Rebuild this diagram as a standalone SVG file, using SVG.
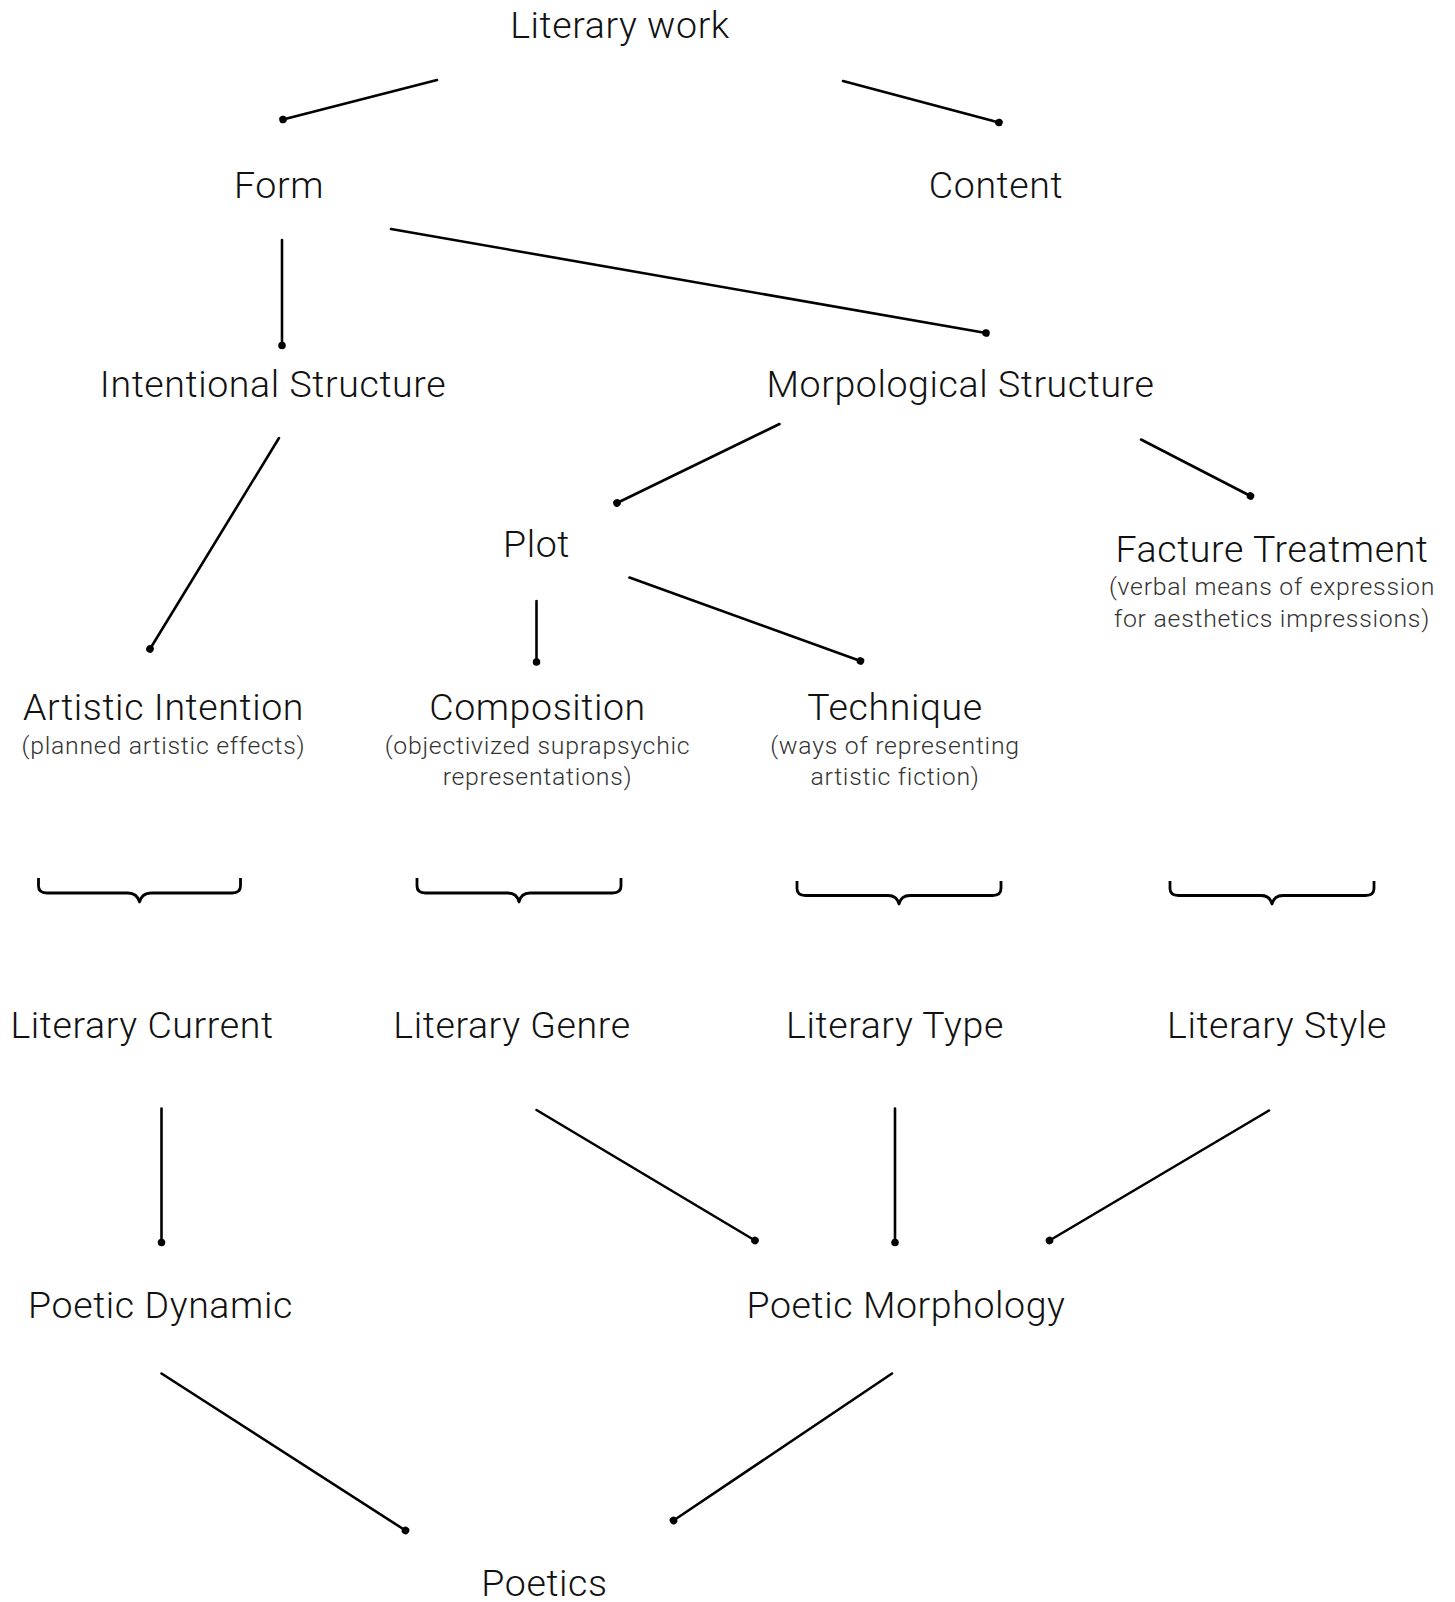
<svg xmlns="http://www.w3.org/2000/svg" width="1455" height="1602" viewBox="0 0 1455 1602">
<defs>
<style>
.t{font-family:Roboto,"Helvetica Neue","Liberation Sans",sans-serif;font-weight:300;font-size:37.5px;letter-spacing:0.6px;fill:#111;text-anchor:middle}
.s{font-family:Roboto,"Helvetica Neue","Liberation Sans",sans-serif;font-weight:300;font-size:24.8px;letter-spacing:0.75px;fill:#333;text-anchor:middle}
.c line{stroke:#000;stroke-width:2.6;stroke-linecap:round;marker-end:url(#dot)}
.b path{fill:none;stroke:#000;stroke-width:2.8;stroke-linejoin:round}
</style>
<marker id="dot" viewBox="-5 -5 10 10" refX="0" refY="0" markerWidth="9" markerHeight="9" markerUnits="userSpaceOnUse" orient="auto"><circle r="4.2" fill="#000"/></marker>
</defs>
<rect width="1455" height="1602" fill="#fff"/>
<g id="connectors" class="c">
<line x1="437" y1="80" x2="283" y2="119.5"/>
<line x1="843" y1="81" x2="999" y2="122.5"/>
<line x1="282" y1="240" x2="282" y2="345.5"/>
<line x1="391" y1="229" x2="986" y2="333"/>
<line x1="279" y1="438" x2="150" y2="649"/>
<line x1="779.5" y1="424" x2="617" y2="503"/>
<line x1="1141" y1="439.5" x2="1250.5" y2="496"/>
<line x1="536.5" y1="601" x2="536.5" y2="662"/>
<line x1="629.5" y1="577.5" x2="860.5" y2="661"/>
<line x1="161.5" y1="1108.5" x2="161.5" y2="1242.5"/>
<line x1="536.5" y1="1110" x2="755" y2="1240.5"/>
<line x1="895" y1="1108.5" x2="895" y2="1242.5"/>
<line x1="1269" y1="1110.5" x2="1049.5" y2="1240.5"/>
<line x1="161.5" y1="1373.5" x2="405.5" y2="1530.5"/>
<line x1="892" y1="1373.5" x2="673.5" y2="1520.5"/>
</g>
<g id="braces" class="b">
<path d="M38.5 878 V886 Q38.5 893 47 893 H128 Q137 893 139.5 902 Q142 893 151 893 H232 Q240.5 893 240.5 886 V878"/>
<path d="M417 878 V886 Q417 893 425.5 893 H508 Q517 893 519 902 Q521 893 530 893 H612.5 Q621 893 621 886 V878"/>
<path d="M797 881 V888.5 Q797 895.5 805.5 895.5 H888 Q897 895.5 899 904 Q901 895.5 910 895.5 H992.5 Q1001 895.5 1001 888.5 V881"/>
<path d="M1170 881 V888.5 Q1170 895.5 1178.5 895.5 H1261 Q1270 895.5 1272 904 Q1274 895.5 1283 895.5 H1365.5 Q1374 895.5 1374 888.5 V881"/>
</g>
<g id="n-literary-work"><text class="t" x="620" y="38">Literary work</text></g>
<g id="n-form"><text class="t" x="279" y="198">Form</text></g>
<g id="n-content"><text class="t" x="996" y="198">Content</text></g>
<g id="n-intentional"><text class="t" x="273" y="397">Intentional Structure</text></g>
<g id="n-morpological"><text class="t" x="960.5" y="397">Morpological Structure</text></g>
<g id="n-plot"><text class="t" x="536.5" y="557">Plot</text></g>
<g id="n-facture"><text class="t" x="1272" y="562">Facture Treatment</text>
<text class="s" x="1272" y="595">(verbal means of expression</text>
<text class="s" x="1272" y="626.5">for aesthetics impressions)</text></g>
<g id="n-artistic"><text class="t" x="163.5" y="720">Artistic Intention</text>
<text class="s" x="163.5" y="753.5">(planned artistic effects)</text></g>
<g id="n-composition"><text class="t" x="537.5" y="720">Composition</text>
<text class="s" x="537.5" y="753.5">(objectivized suprapsychic</text>
<text class="s" x="537.5" y="785">representations)</text></g>
<g id="n-technique"><text class="t" x="895" y="720">Technique</text>
<text class="s" x="895" y="753.5">(ways of representing</text>
<text class="s" x="895" y="785">artistic fiction)</text></g>
<g id="n-current"><text class="t" x="142" y="1038">Literary Current</text></g>
<g id="n-genre"><text class="t" x="512" y="1038">Literary Genre</text></g>
<g id="n-type"><text class="t" x="895" y="1038">Literary Type</text></g>
<g id="n-style"><text class="t" x="1277" y="1038">Literary Style</text></g>
<g id="n-dynamic"><text class="t" x="160.5" y="1318">Poetic Dynamic</text></g>
<g id="n-morphology"><text class="t" x="906" y="1318">Poetic Morphology</text></g>
<g id="n-poetics"><text class="t" x="544.5" y="1596">Poetics</text></g>
</svg>
